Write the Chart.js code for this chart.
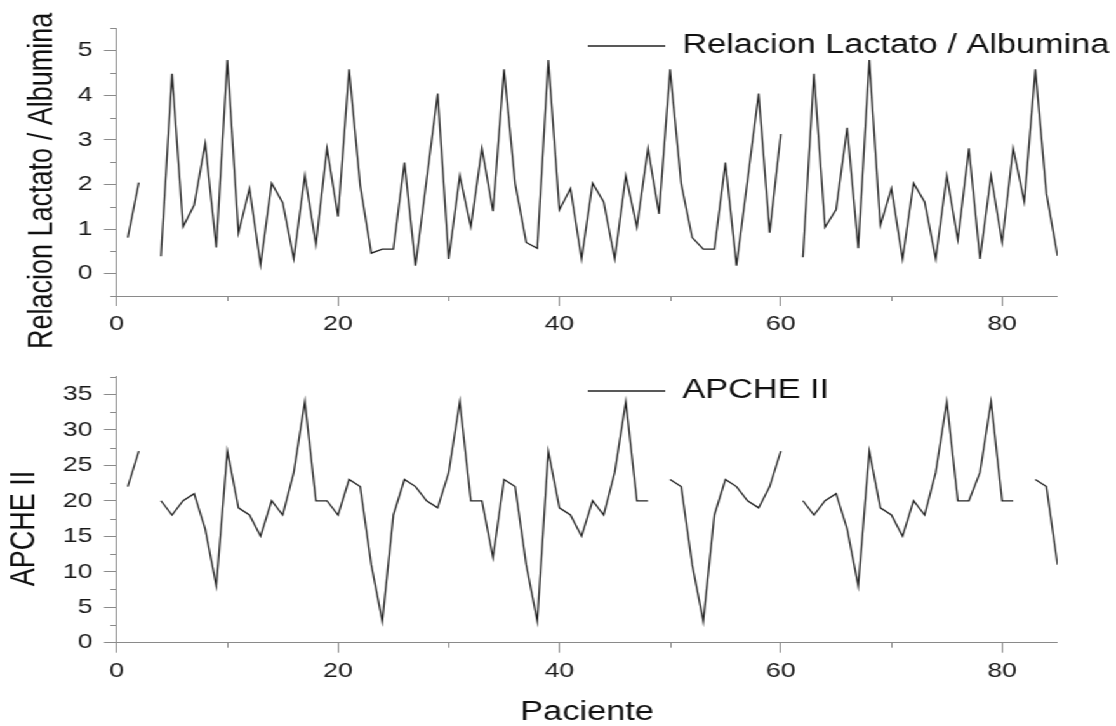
<!DOCTYPE html>
<html>
<head>
<meta charset="utf-8">
<script src="https://cdn.jsdelivr.net/npm/chart.js@4.4.1/dist/chart.umd.min.js"></script>
<style>
  html, body { margin: 0; padding: 0; background: #fff; }
  /* the original figure is stretched horizontally, so the canvases are drawn narrower and scaled */
  #wrap { position: absolute; left: 0; top: 0; width: 879px; height: 726px; transform: scaleX(1.26962); transform-origin: 0 0; }
  canvas { display: block; }
</style>
</head>
<body>
<div id="wrap">
  <canvas id="topChart" width="879" height="355"></canvas>
  <canvas id="bottomChart" width="879" height="371"></canvas>
</div>
<script>
// data
var pacientes = [1, 2, 3, 4, 5, 6, 7, 8, 9, 10, 11, 12, 13, 14, 15, 16, 17, 18, 19, 20,
  21, 22, 23, 24, 25, 26, 27, 28, 29, 30, 31, 32, 33, 34, 35, 36, 37, 38, 39, 40,
  41, 42, 43, 44, 45, 46, 47, 48, 49, 50, 51, 52, 53, 54, 55, 56, 57, 58, 59, 60,
  61, 62, 63, 64, 65, 66, 67, 68, 69, 70, 71, 72, 73, 74, 75, 76, 77, 78, 79, 80,
  81, 82, 83, 84, 85];

var relacionLA = [0.81, 2.04, null, 0.39, 4.48, 1.05, 1.54, 2.92, 0.59, 4.79,
  0.91, 1.91, 0.2, 2.03, 1.59, 0.33, 2.2, 0.65, 2.81, 1.28,
  4.58, 1.98, 0.46, 0.55, 0.55, 2.49, 0.18, 2.1, 4.04, 0.33,
  2.2, 1.05, 2.81, 1.4, 4.58, 2.02, 0.7, 0.57, 4.79, 1.43,
  1.91, 0.33, 2.03, 1.61, 0.33, 2.2, 1.04, 2.81, 1.34, 4.58,
  2.02, 0.81, 0.55, 0.55, 2.49, 0.18, 2.1, 4.04, 0.92, 3.13,
  null, 0.37, 4.48, 1.04, 1.44, 3.27, 0.57, 4.79, 1.08, 1.91,
  0.33, 2.03, 1.61, 0.33, 2.2, 0.76, 2.81, 0.33, 2.2, 0.7,
  2.81, 1.61, 4.58, 1.8, 0.4];

var apache = [22, 27, null, 20, 18, 20, 21, 16, 8, 27,
  19, 18, 15, 20, 18, 24, 34, 20, 20, 18,
  23, 22, 11, 3, 18, 23, 22, 20, 19, 24,
  34, 20, 20, 12, 23, 22, 11, 3, 27, 19,
  18, 15, 20, 18, 24, 34, 20, 20, null, 23,
  22, 11, 3, 18, 23, 22, 20, 19, 22, 27,
  null, 20, 18, 20, 21, 16, 8, 27, 19, 18,
  15, 20, 18, 24, 34, 20, 20, 24, 34, 20,
  20, null, 23, 22, 11];

var xTicks = [0, 20, 40, 60, 80];
var xMinor = [10, 30, 50, 70];
var laTicks = [0, 1, 2, 3, 4, 5];
var laMinor = [-0.5, 0.5, 1.5, 2.5, 3.5, 4.5, 5.5];
var apTicks = [0, 5, 10, 15, 20, 25, 30, 35];
var apMinor = [2.5, 7.5, 12.5, 17.5, 22.5, 27.5, 32.5, 37.5];

var FONT = "'Liberation Sans', Arial, sans-serif";
var INK = '#222';
var AXIS = '#8a8a8a';
Chart.defaults.font.family = FONT;

// short minor ticks between the labelled ones
var minorTicks = {
  id: 'minorTicks',
  afterDraw: function (chart, args, opts) {
    var ctx = chart.ctx, sx = chart.scales.x, sy = chart.scales.y;
    ctx.save();
    ctx.strokeStyle = opts.color;
    ctx.lineWidth = 1;
    ctx.beginPath();
    opts.x.forEach(function (v) {
      var px = Math.round(sx.getPixelForValue(v)) + 0.5;
      ctx.moveTo(px, sx.top);
      ctx.lineTo(px, sx.top + opts.length);
    });
    opts.y.forEach(function (v) {
      var py = Math.round(sy.getPixelForValue(v)) + 0.5;
      ctx.moveTo(sy.right, py);
      ctx.lineTo(sy.right - opts.length, py);
    });
    ctx.stroke();
    ctx.restore();
  }
};

// legend sits inside the plot, moved to where the figure has it
var legendAt = {
  id: 'legendAt',
  afterLayout: function (chart, args, opts) {
    var lg = chart.legend;
    var w = lg.right - lg.left, h = lg.bottom - lg.top;
    lg.left = opts.left; lg.right = opts.left + w;
    lg.top = opts.top; lg.bottom = opts.top + h;
  }
};

function panel(id, o) {
  return new Chart(document.getElementById(id), {
    type: 'line',
    data: {
      datasets: [{
        label: o.label,
        data: pacientes.map(function (p, i) { return {x: p, y: o.values[i]}; }),
        borderColor: INK,
        backgroundColor: INK,
        borderWidth: 1.3,
        pointRadius: 0,
        tension: 0,
        spanGaps: false
      }]
    },
    options: {
      responsive: false,
      animation: false,
      layout: { padding: o.padding },
      plugins: {
        tooltip: { enabled: false },
        legend: {
          position: 'chartArea',
          align: 'start',
          labels: {
            usePointStyle: true,
            pointStyle: 'line',
            pointStyleWidth: 61,
            padding: 6,
            color: '#111',
            font: { size: 27 }
          }
        },
        legendAt: { left: 457, top: o.legendTop },
        minorTicks: { x: xMinor, y: o.minor, length: 5, color: AXIS }
      },
      scales: {
        x: {
          type: 'linear',
          min: 0,
          max: 85,
          afterBuildTicks: function (s) { s.ticks = xTicks.map(function (v) { return {value: v}; }); },
          afterFit: function (s) { s.height = o.xHeight; },
          grid: { drawOnChartArea: false, tickLength: 10, color: AXIS, tickColor: AXIS },
          border: { color: AXIS, width: 1 },
          ticks: { padding: 6, color: '#1a1a1a', font: { size: 21 }, maxRotation: 0, autoSkip: false },
          title: o.xTitle
        },
        y: {
          min: o.min,
          max: o.max,
          afterBuildTicks: function (s) { s.ticks = o.ticks.map(function (v) { return {value: v}; }); },
          afterFit: function (s) { s.width = 91.9; },
          grid: { drawOnChartArea: false, tickLength: 10, color: AXIS, tickColor: AXIS },
          border: { color: AXIS, width: 1 },
          ticks: { padding: 9, color: '#1a1a1a', font: { size: 21 } },
          title: {
            display: true,
            text: o.yTitle,
            color: '#111',
            font: { size: 27 },
            padding: { top: o.titlePad, bottom: 0 }
          }
        }
      }
    },
    plugins: [legendAt, minorTicks]
  });
}

panel('topChart', {
  label: 'Relacion Lactato / Albumina',
  values: relacionLA,
  min: -0.5, max: 5.5,
  ticks: laTicks, minor: laMinor,
  yTitle: 'Relacion Lactato / Albumina     ',
  titlePad: 17,
  padding: { top: 28.3, right: 46.1, bottom: 0, left: 0 },
  xHeight: 59,
  legendTop: 26.5,
  xTitle: { display: false }
});

panel('bottomChart', {
  label: 'APCHE II',
  values: apache,
  min: 0, max: 37.5,
  ticks: apTicks, minor: apMinor,
  yTitle: 'APCHE II     ',
  titlePad: 3.5,
  padding: { top: 18.3, right: 46.1, bottom: 0, left: 0 },
  xHeight: 83.3,
  legendTop: 16.5,
  xTitle: {
    display: true,
    text: 'Paciente',
    color: '#111',
    font: { size: 27, lineHeight: 1 },
    padding: { top: 0, bottom: 0 }
  }
});
</script>
</body>
</html>
